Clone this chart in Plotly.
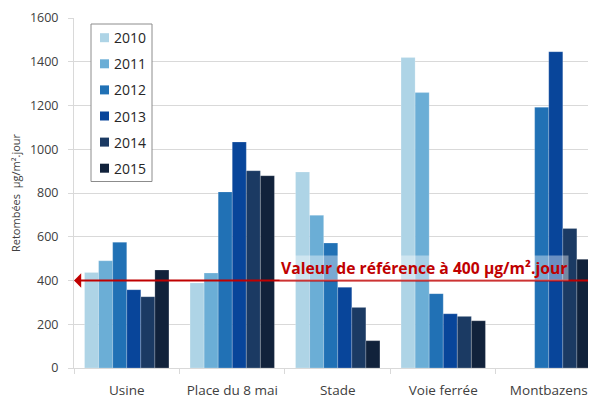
import plotly.graph_objects as go

categories = ["Usine", "Place du 8 mai", "Stade", "Voie ferrée", "Montbazens"]
years = ["2010", "2011", "2012", "2013", "2014", "2015"]
values_2010 = [437, 389, 896, 1419, None]
values_2011 = [490, 434, 698, 1259, None]
values_2012 = [575, 805, 571, 340, 1192]
values_2013 = [358, 1033, 369, 248, 1446]
values_2014 = [326, 902, 277, 236, 638]
values_2015 = [448, 879, 125, 216, 497]
series = [values_2010, values_2011, values_2012, values_2013, values_2014, values_2015]
colors = ["#AED4E6", "#6BAED6", "#2171B5", "#08459A", "#1B3A63", "#11223B"]
reference_value = 400
reference_label = "Valeur de référence à 400 µg/m².jour"
y_ticks = [0, 200, 400, 600, 800, 1000, 1200, 1400, 1600]

FONT = "Open Sans"
OFF = 8  # page body margin in the browser
W, H = 596 - OFF, 400 - OFF
# plot area in page pixels: x 74..596, y 18..368
ML, MR, MT, MB = 74 - OFF, 0, 18 - OFF, 400 - 368
PW, PH = W - ML - MR, H - MT - MB


def px(x):
    return (x - 74) / PW


def py(y):
    return (368 - y) / PH


fig = go.Figure()
for yr, vals, col in zip(years, series, colors):
    fig.add_trace(go.Bar(
        name=yr, x=categories, y=vals,
        marker=dict(color=col, line=dict(color="rgba(255,255,255,0.35)", width=0.6)),
    ))

fig.update_layout(
    width=W, height=H,
    margin=dict(l=ML, r=MR, t=MT, b=MB, autoexpand=False),
    paper_bgcolor="white", plot_bgcolor="white",
    barmode="group", bargap=0.2, bargroupgap=0,
    font=dict(family=FONT, color="#404040"),
    showlegend=False,
    xaxis=dict(
        range=[-0.5, 4.448], type="category", automargin=False,
        showgrid=False, showline=True, linecolor="#D9D9D9", linewidth=1,
        ticks="outside", tickson="boundaries", ticklen=5, tickcolor="#D9D9D9",
        tickfont=dict(size=13.5, color="#404040"), ticklabelstandoff=10,
    ),
    yaxis=dict(
        range=[0, 1600], tickvals=y_ticks, automargin=False,
        showgrid=True, gridcolor="#D9D9D9", gridwidth=1,
        showline=True, linecolor="#D9D9D9", linewidth=1,
        ticks="outside", ticklen=5, tickcolor="#D9D9D9",
        tickfont=dict(size=12.5, color="#404040"), ticklabelstandoff=7,
        zeroline=False,
        title=dict(text="Retombées  µg/m².jour", font=dict(size=11, color="#404040"), standoff=8),
    ),
)

# legend box (custom, to match the compact original legend)
fig.add_shape(type="rect", xref="paper", yref="paper",
              x0=px(91), x1=px(152), y0=py(181.5), y1=py(24),
              fillcolor="white", line=dict(color="#8C8C8C", width=1), layer="above")
item_y = [37.7, 63.8, 89.9, 116.0, 142.1, 168.2]
for yr, col, yc in zip(years, colors, item_y):
    fig.add_shape(type="rect", xref="paper", yref="paper",
                  x0=px(100), x1=px(109), y0=py(yc + 4.5), y1=py(yc - 4.5),
                  fillcolor=col, line=dict(width=0), layer="above")
    fig.add_annotation(x=px(112), y=py(yc), xref="paper", yref="paper",
                       xanchor="left", yanchor="middle", text=yr, showarrow=False,
                       font=dict(size=14, color="#262626", family=FONT))

# reference arrow
fig.add_annotation(
    x=-0.5, y=reference_value, xref="x", yref="y",
    ax=4.448, ay=reference_value, axref="x", ayref="y",
    text="", showarrow=True, arrowhead=1, arrowsize=1.2, arrowwidth=2,
    arrowcolor="#C00000", standoff=0,
)
fig.add_annotation(
    x=px(424), y=reference_value, xref="paper", yref="y",
    xanchor="center", yanchor="bottom",
    text=reference_label, showarrow=False,
    font=dict(size=15.7, color="#C00000", family=FONT, weight="bold"),
    bgcolor="rgba(255,255,255,0.4)", borderpad=1,
)

fig.write_html("out.html")
